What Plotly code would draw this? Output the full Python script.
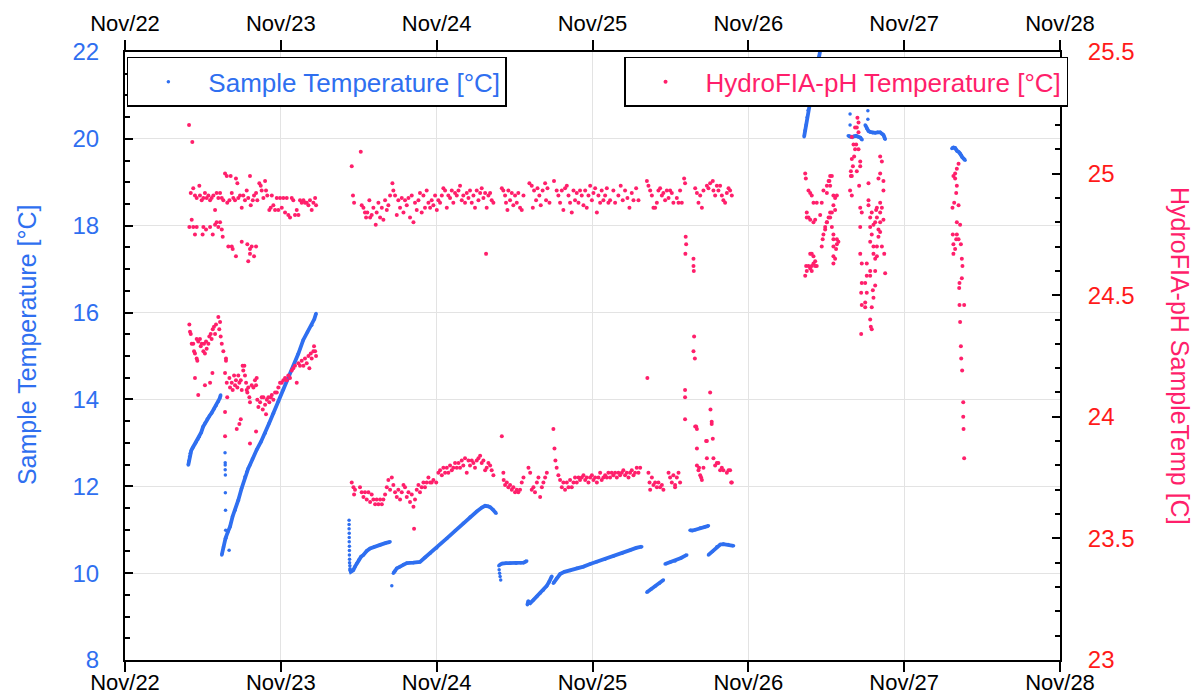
import pandas as pd
import plotly.graph_objects as go

# ---------------- DATA (time in days after Nov 22 00:00, value) ----------------
BASE = pd.Timestamp("2023-11-22")
x_tick_days = [0, 1, 2, 3, 4, 5, 6]
x_tick_labels = ["Nov/22", "Nov/23", "Nov/24", "Nov/25", "Nov/26", "Nov/27", "Nov/28"]

# Sample Temperature [°C] (left axis) - continuous runs
st_seg1 = [(0.406,12.49),(0.410,12.58),(0.414,12.68),(0.419,12.76),(0.425,12.82),(0.432,12.87),(0.438,12.91),
           (0.447,12.96),(0.457,13.02),(0.467,13.08),(0.477,13.14),(0.489,13.24),(0.501,13.37),(0.514,13.46),
           (0.528,13.55),(0.542,13.62),(0.556,13.69),(0.571,13.78),(0.585,13.86),(0.599,13.95),(0.607,14.02),(0.614,14.10)]
st_seg2 = [(0.621,10.42),(0.632,10.60),(0.645,10.80),(0.660,10.95),(0.674,11.07),(0.690,11.30),(0.706,11.45),
           (0.727,11.68),(0.748,11.95),(0.770,12.22),(0.781,12.33),(0.791,12.41),(0.800,12.48),(0.818,12.63),
           (0.845,12.84),(0.872,13.02),(0.899,13.22),(0.925,13.45),(0.952,13.68),(0.984,13.95),(1.016,14.22),
           (1.048,14.48),(1.080,14.75),(1.112,15.05),(1.144,15.37),(1.171,15.55),(1.198,15.71),(1.215,15.85),(1.226,15.98)]
st_seg3 = [(1.444,10.08),(1.449,10.03),(1.457,10.05),(1.465,10.07),(1.476,10.15),(1.487,10.22),(1.500,10.30),
           (1.515,10.38),(1.530,10.42),(1.551,10.51),(1.573,10.57),(1.600,10.61),(1.637,10.65),(1.670,10.69),(1.701,10.72)]
st_seg4 = [(1.722,10.00),(1.733,10.05),(1.744,10.11),(1.765,10.15),(1.787,10.20),(1.808,10.23),(1.850,10.24),
           (1.893,10.26),(1.925,10.36),(1.958,10.46),(2.000,10.58),(2.065,10.80),(2.120,10.98),(2.171,11.15),
           (2.215,11.29),(2.257,11.42),(2.290,11.51),(2.311,11.55),(2.330,11.54),(2.343,11.52),(2.362,11.46),(2.381,11.38)]
st_seg5 = [(2.403,10.19),(2.420,10.22),(2.445,10.23),(2.471,10.23),(2.510,10.23),(2.540,10.24),(2.557,10.24),
           (2.568,10.26),(2.578,10.28)]
st_seg6 = [(2.582,9.27),(2.588,9.36),(2.594,9.32),(2.600,9.31),(2.620,9.38),(2.643,9.46),(2.665,9.54),
           (2.685,9.61),(2.705,9.70),(2.722,9.80),(2.739,9.93)]
st_seg7 = [(2.749,9.77),(2.770,9.88),(2.792,9.98),(2.820,10.03),(2.856,10.06),(2.900,10.11),(2.942,10.15),
           (2.985,10.21),(3.028,10.26),(3.080,10.32),(3.134,10.39),(3.190,10.46),(3.241,10.53),(3.280,10.58),(3.316,10.61)]
st_seg8 = [(3.349,9.56),(3.375,9.63),(3.402,9.70),(3.430,9.77),(3.455,9.84)]
st_seg9 = [(3.466,10.21),(3.498,10.25),(3.530,10.28),(3.568,10.35),(3.605,10.42)]
st_seg10 = [(3.626,10.99),(3.640,10.98),(3.660,11.00),(3.691,11.04),(3.720,11.06),(3.744,11.09)]
st_seg11 = [(3.744,10.42),(3.770,10.50),(3.798,10.61),(3.820,10.66),(3.840,10.67),(3.870,10.66),(3.905,10.63)]
st_seg12 = [(4.358,20.05),(4.365,20.20),(4.371,20.32),(4.378,20.50),(4.384,20.66),(4.392,20.75),(4.401,20.82),
            (4.410,21.00),(4.425,21.30),(4.440,21.60),(4.455,21.90),(4.462,22.05)]
st_seg13 = [(4.641,20.07),(4.653,20.05),(4.666,20.04),(4.679,20.06),(4.692,20.07),(4.705,20.05),(4.718,20.03),(4.730,19.98)]
st_seg14 = [(4.750,20.32),(4.760,20.24),(4.771,20.18),(4.782,20.16),(4.798,20.14),(4.814,20.14),(4.830,20.15),
            (4.846,20.15),(4.857,20.12),(4.867,20.09),(4.873,20.04),(4.878,19.99)]
st_seg15 = [(5.306,19.78),(5.316,19.80),(5.327,19.79),(5.334,19.75),(5.340,19.72),(5.350,19.70),(5.359,19.67),
            (5.366,19.62),(5.372,19.58),(5.382,19.54),(5.391,19.51)]
# Sample Temperature - isolated / sparse samples
st_dots = [(0.642,12.77),(0.643,12.54),(0.643,12.49),(0.643,12.38),(0.644,12.26),(0.644,11.85),(0.645,11.45),
           (0.646,10.99),(0.648,10.81),(0.668,10.53),
           (1.438,11.22),(1.438,11.12),(1.438,11.02),(1.439,10.92),(1.439,10.82),(1.439,10.72),(1.440,10.62),
           (1.440,10.52),(1.440,10.42),(1.441,10.32),(1.441,10.24),(1.443,10.17),(1.444,10.10),
           (1.712,9.71),
           (2.399,10.17),(2.401,10.08),(2.404,10.00),(2.407,9.92),(2.411,9.84),
           (4.653,20.57),(4.767,20.65),(4.653,20.32),(4.767,20.45)]

# HydroFIA-pH Temperature [°C] (right axis)
hf_nov22_high = [(0.411,25.20),(0.432,25.13),(0.422,24.92),(0.438,24.94),(0.449,24.91),(0.460,24.90),(0.477,24.95),
    (0.481,24.91),(0.492,24.89),(0.503,24.90),(0.513,24.92),(0.524,24.90),(0.535,24.91),(0.546,24.89),(0.556,24.90),
    (0.567,24.91),(0.578,24.85),(0.588,24.92),(0.599,24.90),(0.610,24.92),(0.621,24.90),(0.631,24.89),(0.642,25.00),
    (0.653,24.99),(0.656,24.88),(0.670,24.89),(0.678,24.99),(0.685,24.92),(0.695,24.90),(0.706,24.89),(0.712,24.98),
    (0.721,24.96),(0.727,24.90),(0.738,24.91),(0.749,24.86),(0.759,24.91),(0.770,24.89),(0.781,24.93),(0.791,24.90),
    (0.802,24.99),(0.807,24.87),(0.820,24.89),(0.828,24.91),(0.841,24.92),(0.849,24.89),(0.862,24.96),(0.871,24.95),
    (0.877,24.93),(0.888,24.90),(0.899,24.97),(0.905,24.93),(0.913,24.91),(0.926,24.85),(0.935,24.86),(0.942,24.91),
    (0.952,24.87),(0.963,24.85),(0.974,24.90),(0.984,24.85),(0.995,24.90),(1.006,24.86),(1.016,24.90),(1.027,24.84),
    (1.038,24.90),(1.048,24.83),(1.059,24.82),(1.070,24.90),(1.080,24.89),(1.091,24.83),(1.102,24.85),(1.113,24.83),
    (1.123,24.89),(1.134,24.88),(1.145,24.89),(1.155,24.88),(1.166,24.88),(1.177,24.87),(1.187,24.89),(1.198,24.85),
    (1.209,24.88),(1.220,24.90),(1.226,24.87),
    (0.428,24.81),(0.413,24.78),(0.438,24.78),(0.449,24.75),(0.460,24.78),(0.498,24.75),(0.503,24.78),(0.520,24.77),
    (0.546,24.78),(0.563,24.75),(0.578,24.79),(0.588,24.80),(0.599,24.78),(0.610,24.80),(0.621,24.77),(0.627,24.74),
    (0.663,24.70),(0.685,24.70),(0.691,24.69),(0.712,24.66),(0.749,24.72),(0.785,24.71),(0.802,24.69),(0.813,24.70),
    (0.802,24.67),(0.828,24.66),(0.791,24.64),(0.841,24.70)]
hf_nov22_low = [(0.413,24.38),(0.417,24.35),(0.422,24.34),(0.428,24.30),(0.438,24.30),(0.443,24.27),(0.449,24.26),
    (0.460,24.24),(0.464,24.23),(0.460,24.32),(0.470,24.31),(0.481,24.32),(0.486,24.29),(0.492,24.30),(0.503,24.27),
    (0.507,24.30),(0.513,24.26),(0.520,24.31),(0.524,24.28),(0.535,24.30),(0.541,24.33),(0.550,24.34),(0.556,24.32),
    (0.563,24.36),(0.571,24.37),(0.578,24.34),(0.584,24.38),(0.599,24.41),(0.610,24.39),(0.605,24.36),(0.614,24.33),
    (0.621,24.30),(0.631,24.27),(0.648,24.24),(0.648,24.23),
    (0.449,24.16),(0.470,24.09),(0.513,24.13),(0.546,24.14),(0.561,24.18),
    (0.642,24.18),(0.653,24.14),(0.656,24.08),(0.670,24.16),(0.674,24.12),(0.685,24.14),(0.691,24.11),(0.700,24.17),
    (0.706,24.13),(0.712,24.15),(0.721,24.12),(0.727,24.17),(0.734,24.14),(0.743,24.15),(0.749,24.11),(0.755,24.21),
    (0.759,24.19),(0.766,24.21),(0.770,24.17),(0.777,24.14),(0.781,24.11),(0.785,24.10),(0.791,24.12),(0.798,24.08),
    (0.802,24.06),(0.813,24.13),(0.824,24.12),(0.834,24.15),(0.841,24.13),(0.845,24.16),
    (0.849,24.07),(0.856,24.04),(0.867,24.06),(0.877,24.08),(0.884,24.03),(0.888,24.08),(0.899,24.05),(0.905,24.01),
    (0.910,24.07),(0.920,24.08),(0.926,24.06),(0.935,24.08),(0.942,24.09),(0.952,24.07),(0.963,24.10),
    (0.974,24.10),(0.984,24.12),(0.995,24.14),(1.006,24.14),(1.016,24.15),(1.027,24.16),(1.038,24.15),(1.048,24.17),
    (1.059,24.16),(1.070,24.19),(1.080,24.20),(1.091,24.21),(1.102,24.14),(1.113,24.22),(1.123,24.21),(1.134,24.23),
    (1.145,24.21),(1.155,24.24),(1.166,24.22),(1.177,24.25),(1.183,24.20),(1.192,24.26),(1.198,24.24),(1.209,24.27),
    (1.213,24.29),(1.220,24.27),(1.226,24.25),
    (0.642,24.02),(0.642,23.92),(0.717,23.95),(0.734,23.97),(0.743,23.99),(0.802,23.89),(0.841,23.94)]
hf_nov23_high = [(1.455,25.03),(1.513,25.09),(1.463,24.91),(1.470,24.88),
    (1.519,24.87),(1.530,24.86),(1.540,24.84),(1.547,24.82),(1.555,24.84),(1.568,24.89),(1.573,24.82),(1.583,24.83),
    (1.594,24.86),(1.609,24.79),(1.615,24.84),(1.626,24.88),(1.637,24.82),(1.648,24.86),(1.658,24.81),(1.669,24.89),
    (1.680,24.85),(1.690,24.87),(1.701,24.91),(1.716,24.96),(1.722,24.93),(1.733,24.91),(1.744,24.83),(1.754,24.89),
    (1.765,24.86),(1.776,24.90),(1.787,24.84),(1.797,24.89),(1.808,24.87),(1.819,24.90),(1.829,24.82),(1.840,24.91),
    (1.851,24.80),(1.861,24.88),(1.872,24.85),(1.883,24.89),(1.893,24.92),(1.904,24.84),(1.915,24.91),(1.925,24.86),
    (1.936,24.93),(1.947,24.88),(1.958,24.86),(1.968,24.89),(1.979,24.87),(1.990,24.91),(2.001,24.85),(2.011,24.89),
    (2.022,24.88),(2.033,24.91),(2.043,24.94),(2.054,24.93),(2.065,24.86),(2.075,24.91),(2.086,24.90),(2.097,24.93),
    (2.107,24.88),(2.118,24.92),(2.129,24.91),(2.140,24.93),(2.150,24.95),(2.161,24.89),(2.171,24.91),(2.182,24.88),
    (2.193,24.92),(2.204,24.90),(2.214,24.93),(2.225,24.88),(2.236,24.91),(2.246,24.86),(2.257,24.93),(2.268,24.89),
    (2.279,24.92),(2.289,24.94),(2.300,24.90),(2.311,24.92),(2.321,24.86),(2.332,24.91),(2.343,24.92),(2.353,24.89),
    (2.364,24.88),(2.317,24.67),
    (2.418,24.94),(2.428,24.93),(2.439,24.91),(2.445,24.88),(2.454,24.85),(2.460,24.93),(2.471,24.89),(2.482,24.92),
    (2.492,24.87),(2.503,24.91),(2.514,24.88),(2.524,24.92),(2.535,24.86),(2.546,24.85),(2.557,24.91),(2.595,24.96),
    (2.610,24.95),(2.617,24.86),(2.625,24.93),(2.638,24.89),(2.647,24.94),(2.659,24.91),(2.668,24.87),(2.680,24.93),
    (2.696,24.96),(2.702,24.89),(2.711,24.94),(2.724,24.88),(2.753,24.97),(2.770,24.93),(2.781,24.91),(2.792,24.88),
    (2.803,24.93),(2.813,24.85),(2.824,24.94),(2.835,24.95),(2.846,24.91),(2.856,24.88),(2.867,24.84),(2.878,24.93),
    (2.888,24.89),(2.899,24.92),(2.910,24.88),(2.920,24.93),(2.931,24.91),(2.942,24.87),(2.953,24.93),(2.963,24.86),
    (2.974,24.91),(2.985,24.95),(2.996,24.89),(3.006,24.92),(3.017,24.94),(3.028,24.84),(3.038,24.91),(3.049,24.88),
    (3.059,24.93),(3.070,24.89),(3.081,24.91),(3.092,24.94),(3.102,24.88),(3.113,24.89),(3.134,24.93),(3.145,24.88),
    (3.166,24.91),(3.181,24.95),(3.194,24.89),(3.209,24.93),(3.224,24.90),(3.237,24.86),(3.252,24.92),(3.263,24.89),
    (3.280,24.94),(3.295,24.89),(3.349,24.97),(3.359,24.95),(3.370,24.93),(3.381,24.91),(3.391,24.86),(3.402,24.86),
    (3.413,24.88),(3.423,24.93),(3.434,24.94),(3.445,24.91),(3.455,24.92),(3.466,24.89),(3.477,24.93),(3.488,24.90),
    (3.498,24.93),(3.509,24.92),(3.519,24.88),(3.541,24.90),(3.552,24.88),(3.562,24.93),(3.573,24.88),(3.588,24.98),
    (3.594,24.96),(3.659,24.94),(3.670,24.92),(3.680,24.88),(3.691,24.91),(3.702,24.86),(3.712,24.93),(3.734,24.95),
    (3.744,24.94),(3.755,24.96),(3.772,24.97),(3.776,24.93),(3.787,24.91),(3.798,24.95),(3.808,24.93),(3.819,24.95),
    (3.830,24.91),(3.840,24.89),(3.851,24.88),(3.862,24.92),(3.873,24.94),(3.883,24.93),(3.894,24.91)]
hf_nov25_spikes = [(3.598,24.74),(3.601,24.71),(3.596,24.67),(3.648,24.65),(3.648,24.62),(3.650,24.60),
    (3.652,24.33),(3.648,24.27),(3.657,24.24),(3.352,24.16),(3.594,24.11),(3.594,24.08),(3.755,24.10),(3.757,24.03),
    (3.765,23.98),(3.594,23.99),(3.665,23.96),(3.670,23.95),(3.729,23.90),(3.772,23.91),(3.670,23.87),(3.734,23.83),
    (3.659,23.96),(3.765,23.97),(3.734,23.90)]
hf_nov23_low = [(1.455,23.73),(1.466,23.71),(1.470,23.68),(1.476,23.70),(1.508,23.71),(1.519,23.69),(1.530,23.67),
    (1.540,23.69),(1.551,23.66),(1.562,23.69),(1.573,23.65),(1.583,23.68),(1.594,23.66),(1.605,23.64),(1.615,23.66),
    (1.626,23.64),(1.637,23.66),(1.648,23.64),(1.658,23.66),(1.669,23.68),(1.680,23.71),(1.690,23.74),(1.701,23.70),
    (1.712,23.75),(1.722,23.72),(1.733,23.69),(1.744,23.67),(1.754,23.70),(1.765,23.66),(1.776,23.69),(1.787,23.72),
    (1.797,23.71),(1.808,23.67),(1.819,23.69),(1.829,23.65),(1.840,23.68),(1.851,23.63),(1.855,23.54),(1.861,23.66),
    (1.872,23.70),(1.883,23.72),(1.893,23.69),(1.904,23.71),(1.915,23.73),(1.925,23.71),(1.936,23.73),(1.947,23.75),
    (1.958,23.73),(1.968,23.73),(1.979,23.74),(1.997,23.73),(2.011,23.77),(2.022,23.78),(2.033,23.76),(2.043,23.79),
    (2.054,23.77),(2.065,23.79),(2.075,23.77),(2.086,23.80),(2.097,23.78),(2.107,23.79),(2.118,23.81),(2.129,23.79),
    (2.140,23.81),(2.150,23.79),(2.161,23.82),(2.171,23.80),(2.182,23.83),(2.193,23.77),(2.204,23.82),(2.214,23.80),
    (2.225,23.82),(2.236,23.81),(2.246,23.79),(2.257,23.82),(2.268,23.83),(2.279,23.84),(2.289,23.81),(2.300,23.82),
    (2.311,23.78),(2.321,23.79),(2.332,23.81),(2.343,23.80),(2.353,23.78),(2.364,23.76),
    (2.418,23.92),(2.428,23.77),(2.430,23.74),(2.439,23.72),(2.450,23.73),(2.460,23.71),(2.471,23.72),(2.482,23.70),
    (2.492,23.71),(2.503,23.69),(2.514,23.70),(2.524,23.69),(2.535,23.70),(2.546,23.73),(2.557,23.75),(2.589,23.79),
    (2.600,23.77),(2.610,23.70),(2.621,23.71),(2.631,23.69),(2.643,23.73),(2.653,23.75),(2.664,23.67),(2.675,23.71),
    (2.685,23.73),(2.696,23.75),(2.707,23.77),(2.749,23.95),(2.756,23.87),(2.762,23.82),(2.770,23.79),(2.781,23.76),
    (2.792,23.74),(2.803,23.71),(2.813,23.73),(2.824,23.70),(2.835,23.73),(2.846,23.71),(2.856,23.74),(2.867,23.71),
    (2.878,23.73),(2.888,23.75),(2.899,23.73),(2.910,23.75),(2.920,23.74),(2.931,23.75),(2.942,23.76),(2.953,23.74),
    (2.963,23.75),(2.974,23.73),(2.985,23.75),(2.996,23.76),(3.006,23.74),(3.017,23.75),(3.028,23.73),(3.038,23.75),
    (3.049,23.77),(3.059,23.74),(3.070,23.75),(3.081,23.76),(3.092,23.75),(3.102,23.77),(3.113,23.75),(3.123,23.77),
    (3.134,23.76),(3.145,23.77),(3.156,23.75),(3.166,23.77),(3.177,23.76),(3.188,23.77),(3.198,23.78),(3.209,23.76),
    (3.220,23.77),(3.231,23.75),(3.241,23.77),(3.252,23.78),(3.263,23.76),(3.273,23.77),(3.284,23.79),(3.295,23.77),
    (3.306,23.79),(3.359,23.77),(3.366,23.73),(3.370,23.70),(3.381,23.75),(3.391,23.72),(3.402,23.73),(3.413,23.71),
    (3.423,23.73),(3.434,23.71),(3.445,23.72),(3.455,23.70),(3.488,23.77),(3.498,23.75),(3.509,23.73),(3.519,23.76),
    (3.530,23.72),(3.541,23.75),(3.552,23.77),(3.562,23.73),(3.530,23.71),
    (3.684,23.79),(3.697,23.75),(3.798,23.81),(3.819,23.78),(3.883,23.78),(3.894,23.73),(3.670,23.80),(3.680,23.78),
    (3.691,23.76),(3.702,23.74),(3.712,23.79),(3.776,23.83),(3.787,23.80),(3.808,23.81),(3.830,23.79),(3.840,23.78),
    (3.862,23.77),(3.873,23.78),(3.890,23.73)]
hf_nov26 = [(4.365,25.00),(4.369,24.98),(4.386,24.93),(4.397,24.92),(4.375,24.84),(4.386,24.82),(4.429,24.81),
    (4.407,24.91),(4.418,24.88),(4.439,24.88),(4.471,24.88),(4.461,24.83),(4.371,24.62),(4.375,24.60),(4.397,24.61),
    (4.407,24.62),(4.407,24.67),(4.418,24.66),(4.429,24.64),(4.439,24.62),(4.365,24.58),(4.397,24.67),(4.418,24.63),
    (4.429,24.62),(4.386,24.62),(4.407,24.60),(4.375,24.82),(4.397,24.81),(4.418,24.80),
    (4.471,24.70),(4.477,24.73),(4.493,24.77),(4.504,24.80),(4.515,24.82),(4.525,24.84),(4.482,24.93),(4.504,24.95),
    (4.515,24.97),(4.525,24.99),(4.536,24.99),(4.520,24.97),(4.546,24.91),(4.568,24.91),(4.546,24.87),(4.557,24.85),
    (4.536,24.78),(4.546,24.73),(4.568,24.73),(4.568,24.71),(4.546,24.70),(4.546,24.66),(4.546,24.63),(4.578,24.72),
    (4.482,24.75),(4.493,24.78),(4.504,24.80),(4.525,24.82),(4.536,24.84),(4.525,24.95),(4.504,24.92),(4.557,24.90),
    (4.563,24.69),(4.557,24.65),(4.546,24.75),
    (4.664,25.15),(4.675,25.12),(4.700,25.23),(4.696,25.19),(4.707,25.17),(4.685,25.10),(4.707,25.10),(4.664,25.06),
    (4.718,25.05),(4.696,25.01),(4.658,25.01),(4.664,24.99),(4.718,25.03),(4.711,24.95),(4.653,24.93),(4.664,24.91),
    (4.718,24.86),(4.728,24.84),(4.718,24.78),(4.718,24.67),(4.728,24.55),(4.728,24.46),(4.724,24.34),(4.750,24.55),
    (4.750,24.47),(4.760,24.51),(4.771,24.96),(4.771,24.87),(4.782,24.82),(4.782,24.78),(4.792,24.75),(4.760,24.58),
    (4.782,24.60),(4.782,24.40),(4.786,24.37),(4.792,24.36),(4.803,24.49),(4.814,24.54),(4.803,24.70),(4.803,24.67),
    (4.814,24.65),(4.825,24.86),(4.825,24.82),(4.835,24.74),(4.835,24.77),(4.825,24.66),(4.846,24.88),(4.857,24.86),
    (4.867,24.81),(4.867,24.93),(4.846,25.00),(4.835,24.98),(4.857,25.05),(4.846,25.07),(4.867,24.97),(4.872,24.67),
    (4.878,24.59),(4.771,24.89),(4.792,24.84),(4.814,24.80),(4.846,24.84),(4.846,24.80),(4.658,24.99),(4.671,25.03),
    (4.679,25.07),(4.692,25.12),(4.707,25.21),(4.685,25.19),(4.782,24.58),(4.760,24.63),(4.750,24.45),(4.792,24.45),
    (4.799,24.52),(4.814,24.60),(4.825,24.70),(4.846,24.76),(4.857,24.70),(4.728,24.63),(4.724,24.51),(4.782,24.72),
    (4.803,24.79),(4.820,24.85)]
hf_nov27 = [(5.349,25.04),(5.338,25.02),(5.327,25.00),(5.316,24.99),(5.327,24.98),(5.338,24.95),(5.334,24.92),
    (5.321,24.88),(5.310,24.86),(5.349,24.87),(5.338,24.80),(5.359,24.79),(5.312,24.75),(5.338,24.75),(5.334,24.73),
    (5.349,24.73),(5.316,24.71),(5.364,24.71),(5.327,24.69),(5.316,24.67),(5.370,24.65),(5.374,24.62),(5.370,24.57),
    (5.355,24.55),(5.353,24.53),(5.355,24.46),(5.385,24.46),(5.359,24.39),(5.364,24.29),(5.366,24.24),(5.372,24.19),
    (5.379,24.06),(5.379,24.00),(5.381,23.95),(5.385,23.83)]

# ---------------- BUILD ----------------
BLUE = "#2F6FF0"
PINK = "#FF1F6B"
RED = "#FF1A1A"
FONT = "Liberation Sans, Arial, sans-serif"

def day(t):
    return BASE + pd.Timedelta(days=t)

st_runs = [st_seg1, st_seg2, st_seg3, st_seg4, st_seg5, st_seg6, st_seg7, st_seg8,
           st_seg9, st_seg10, st_seg11, st_seg12, st_seg13, st_seg14, st_seg15]
line_x, line_y = [], []
for run in st_runs:
    for t, v in run:
        line_x.append(day(t)); line_y.append(v)
    line_x.append(None); line_y.append(None)
st_all = [p for run in st_runs for p in run] + st_dots
hf_all = hf_nov22_high + hf_nov22_low + hf_nov23_high + hf_nov25_spikes + hf_nov23_low + hf_nov26 + hf_nov27

fig = go.Figure()
fig.add_trace(go.Scatter(x=line_x, y=line_y, mode="lines", line=dict(color=BLUE, width=3.8),
                         connectgaps=False, showlegend=False, hoverinfo="skip"))
fig.add_trace(go.Scatter(x=[day(t) for t, v in st_all], y=[v for t, v in st_all], mode="markers",
                         marker=dict(color=BLUE, size=3.5), name="Sample Temperature [°C]",
                         legend="legend"))
fig.add_trace(go.Scatter(x=[day(t) for t, v in hf_all], y=[v for t, v in hf_all], mode="markers",
                         marker=dict(color=PINK, size=4), name="HydroFIA-pH Temperature [°C]",
                         xaxis="x2", yaxis="y2", legend="legend2"))

xr = [day(x_tick_days[0]), day(x_tick_days[-1])]
xtv = [day(d) for d in x_tick_days]
common_x = dict(type="date", range=xr, tickmode="array", tickvals=xtv, ticktext=x_tick_labels,
                ticks="outside", ticklen=10, tickwidth=2, tickcolor="black", automargin=False,
                showline=True, linecolor="black", linewidth=2, zeroline=False)

fig.update_layout(
    width=1195, height=697,
    margin=dict(l=125, r=135, t=52, b=37),
    paper_bgcolor="white", plot_bgcolor="white",
    font=dict(family=FONT, color="black"),
    xaxis=dict(**common_x, showgrid=True, gridcolor="#e3e3e3", gridwidth=1,
               tickfont=dict(size=22, color="black"), anchor="y", ticklabelstandoff=-8),
    xaxis2=dict(**common_x, overlaying="x", side="top", anchor="y2", showgrid=False,
                tickfont=dict(size=22, color="black")),
    yaxis=dict(range=[8, 22], dtick=2, tick0=8, ticks="inside", ticklen=8, tickwidth=2, tickcolor="black",
               minor=dict(dtick=0.5, ticks="inside", ticklen=5, tickwidth=1.5, tickcolor="black", showgrid=False),
               showline=True, linecolor="black", linewidth=2, zeroline=False, automargin=False,
               showgrid=True, gridcolor="#e3e3e3", gridwidth=1,
               tickfont=dict(size=24, color=BLUE), ticklabelstandoff=19),
    yaxis2=dict(range=[23, 25.5], dtick=0.5, tick0=23, overlaying="y", side="right", anchor="x2",
                ticks="inside", ticklen=8, tickwidth=2, tickcolor="black", automargin=False,
                minor=dict(dtick=0.1, ticks="inside", ticklen=5, tickwidth=1.5, tickcolor="black", showgrid=False),
                showline=True, linecolor="black", linewidth=2, zeroline=False, showgrid=False,
                tickfont=dict(size=24, color=RED), ticklabelstandoff=21),
    legend=dict(x=0.002, y=0.992, xanchor="left", yanchor="top", bgcolor="white",
                bordercolor="black", borderwidth=1.5, font=dict(size=26, color=BLUE), itemwidth=70),
    legend2=dict(x=1.0086, y=0.992, xanchor="right", yanchor="top", bgcolor="white",
                 bordercolor="black", borderwidth=1.5, font=dict(size=26, color=PINK), itemwidth=70),
    annotations=[
        dict(text="Sample Temperature [°C]", xref="paper", yref="paper", x=(27 - 125) / 935, y=0.518,
             showarrow=False, textangle=-90, font=dict(size=25, color=BLUE), xanchor="center", yanchor="middle"),
        dict(text="HydroFIA-pH SampleTemp [C]", xref="paper", yref="paper", x=(1180 - 125) / 935, y=0.5,
             showarrow=False, textangle=90, font=dict(size=25, color=PINK), xanchor="center", yanchor="middle"),
    ],
)

fig.write_html("out.html")
